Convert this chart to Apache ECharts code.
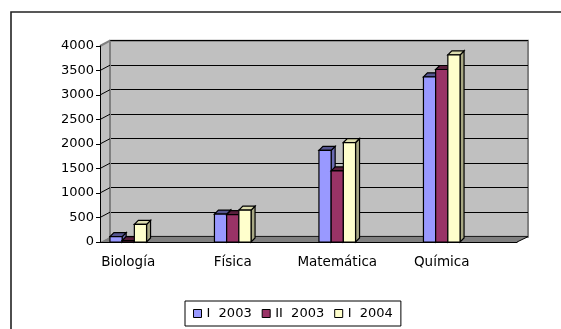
<!DOCTYPE html>
<html>
<head>
<meta charset="utf-8">
<script src="https://cdn.jsdelivr.net/npm/echarts@6/dist/echarts.min.js"></script>
<style>
  html, body { margin: 0; padding: 0; background: #fff; }
  #chart { width: 561px; height: 329px; }
</style>
</head>
<body>
<div id="chart"></div>
<script>
// data
const categories = ['Biología', 'Física', 'Matemática', 'Química'];
const seriesNames = ['I  2003', 'II  2003', 'I  2004'];
const i2003 = [110, 570, 1870, 3370];
const ii2003 = [30, 560, 1450, 3520];
const i2004 = [360, 650, 2030, 3820];
const yMin = 0, yMax = 4000, yStep = 500;

const seriesValues = [i2003, ii2003, i2004];
const barColors = [
  { front: '#9999ff', top: '#55558f', side: '#6b6bb3' },
  { front: '#993366', top: '#5a1e3c', side: '#6b2447' },
  { front: '#ffffcc', top: '#dcdcae', side: '#a8a884' }
];
const font = 'DejaVu Sans';

let chart = echarts.init(document.getElementById('chart'))

function barRenderer (s) {
  return function (params, api) {
    let cat = api.value(0)
    let top = api.coord([cat, api.value(1)])
    let base = api.coord([cat, 0])
    let w = 12.2, d = 4
    let x0 = top[0] - 1.5 * w + s * w
    let x1 = x0 + w
    let yt = top[1], yb = base[1]
    let c = barColors[s]
    return {
      type: 'group',
      children: [
        { type: 'polygon', shape: { points: [[x1, yt], [x1 + d, yt - d], [x1 + d, yb - d], [x1, yb]] },
          style: { fill: c.side, stroke: '#000', lineWidth: 1.2 } },
        { type: 'polygon', shape: { points: [[x0, yt], [x0 + d, yt - d], [x1 + d, yt - d], [x1, yt]] },
          style: { fill: c.top, stroke: '#000', lineWidth: 1.2 } },
        { type: 'rect', shape: { x: x0, y: yt, width: w, height: yb - yt },
          style: { fill: c.front, stroke: '#000', lineWidth: 1.2 } }
      ]
    }
  }
}

let option = {
  animation: false,
  textStyle: { fontFamily: font },
  grid: [
    // back wall
    { left: 110, top: 40.7, width: 418, height: 196, show: true,
      backgroundColor: '#c0c0c0', borderColor: '#808080', borderWidth: 2 },
    // front axes
    { left: 100, top: 46, width: 417, height: 196 },
    // bars
    { left: 76, top: 46, width: 418, height: 196 }
  ],
  xAxis: [
    { gridIndex: 0, type: 'value', show: false, min: 0, max: 1 },
    { gridIndex: 1, type: 'category', data: ['', '', '', '', '', '', '', ''], z: 3,
      axisLine: { lineStyle: { color: '#000', width: 1 } },
      axisTick: { length: 5, lineStyle: { color: '#000' } },
      axisLabel: { show: false } },
    { gridIndex: 2, type: 'category', data: categories,
      axisLine: { show: false }, axisTick: { show: false },
      axisLabel: { margin: 13, color: '#000', fontSize: 13.5, fontFamily: font } }
  ],
  yAxis: [
    { gridIndex: 0, type: 'value', min: yMin, max: yMax, interval: yStep,
      axisLine: { show: false }, axisTick: { show: false }, axisLabel: { show: false },
      splitLine: { lineStyle: { color: '#000', width: 1 } } },
    { gridIndex: 1, type: 'value', min: yMin, max: yMax, interval: yStep, z: 3,
      axisLine: { show: true, lineStyle: { color: '#000', width: 1 } },
      axisTick: { show: true, length: 4, lineStyle: { color: '#000' } },
      axisLabel: { margin: 6, color: '#000', fontSize: 13, fontFamily: font,
        formatter: v => String(v) },
      splitLine: { show: false } },
    { gridIndex: 2, type: 'value', min: yMin, max: yMax, show: false }
  ],
  legend: {
    data: seriesNames,
    left: 185,
    top: 301,
    icon: 'rect',
    itemWidth: 8,
    itemHeight: 8,
    itemGap: 10,
    padding: [6, 8],
    borderColor: '#000',
    borderWidth: 1,
    itemStyle: { borderColor: '#000', borderWidth: 1 },
    textStyle: { color: '#000', fontSize: 13, fontFamily: font }
  },
  series: seriesNames.map((name, s) => ({
    name: name,
    type: 'custom',
    xAxisIndex: 2,
    yAxisIndex: 2,
    itemStyle: { color: barColors[s].front },
    renderItem: barRenderer(s),
    data: seriesValues[s].map((v, i) => [i, v])
  }))
}
chart.setOption(option)

// walls and floor, placed from the axes
let xf0 = chart.convertToPixel({ xAxisIndex: 1 }, 0) - 417 / 16
let xf1 = xf0 + 417
let xb0 = 110, xb1 = 528
let yf = v => chart.convertToPixel({ yAxisIndex: 1 }, v)
let yb = v => chart.convertToPixel({ yAxisIndex: 0 }, v)

let deco = [
  { type: 'rect', shape: { x: 11, y: 12, width: 700, height: 500 }, z: 0,
    style: { fill: null, stroke: '#222', lineWidth: 1.6 } },
  { type: 'polygon', z: 1,
    shape: { points: [[xf0, yf(yMax)], [xb0, yb(yMax)], [xb0, yb(0)], [xf0, yf(0)]] },
    style: { fill: '#c0c0c0' } },
  { type: 'line', z: 1, shape: { x1: xf0, y1: yf(yMax), x2: xb0, y2: yb(yMax) },
    style: { stroke: '#808080', lineWidth: 2 } },
  { type: 'line', z: 1, shape: { x1: xb0, y1: yb(yMax), x2: xb0, y2: yb(0) },
    style: { stroke: '#808080', lineWidth: 2 } },
  { type: 'polygon', z: 1,
    shape: { points: [[xf0, yf(0)], [xf1, yf(0)], [xb1, yb(0)], [xb0, yb(0)]] },
    style: { fill: '#808080' } },
  { type: 'line', z: 4, shape: { x1: xf1, y1: yf(0), x2: xb1, y2: yb(0) },
    style: { stroke: '#000', lineWidth: 1 } }
]
for (let v = yStep; v < yMax; v += yStep) {
  deco.push({ type: 'line', z: 1, shape: { x1: xf0, y1: yf(v), x2: xb0, y2: yb(v) },
    style: { stroke: '#000', lineWidth: 1 } })
}
chart.setOption({ graphic: deco })
</script>
</body>
</html>
